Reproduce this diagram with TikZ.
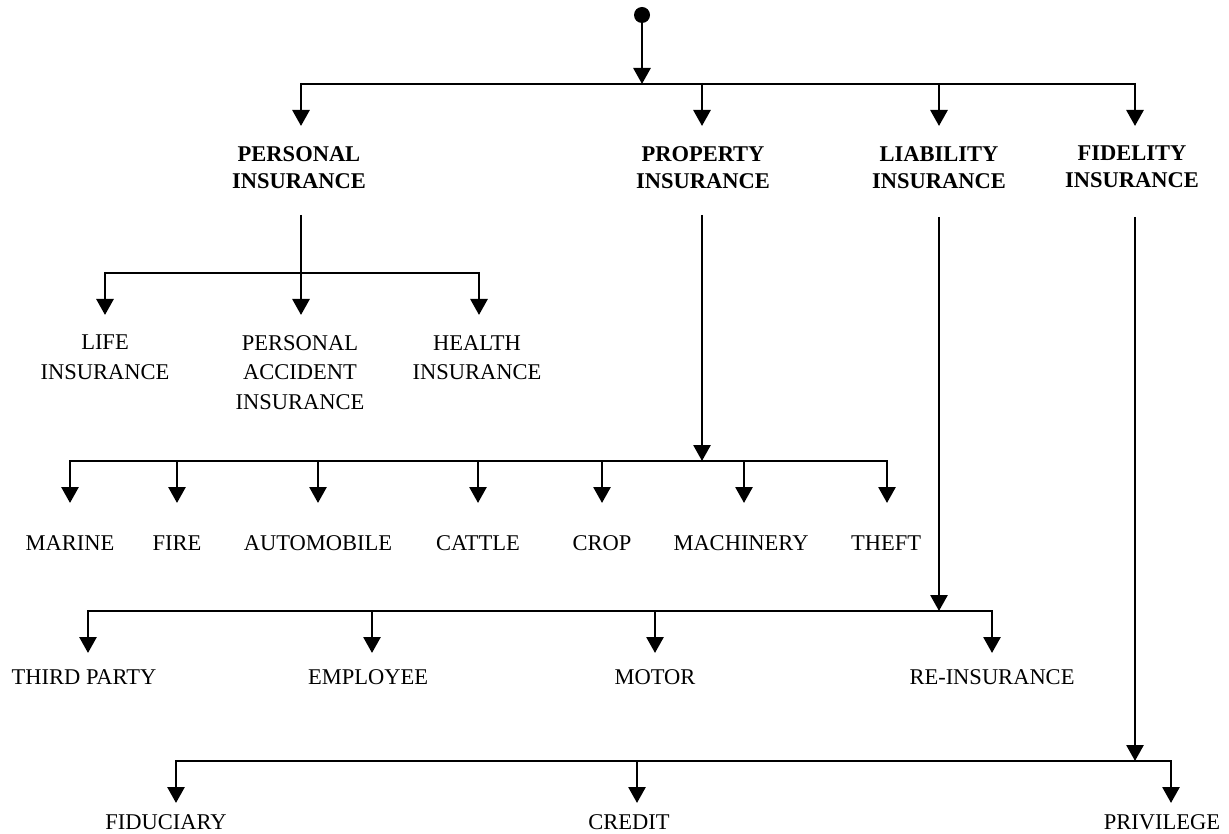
\documentclass[tikz,border=0pt]{standalone}
\usepackage{fontspec}
\setmainfont{Liberation Serif}
\usetikzlibrary{arrows.meta}
\begin{document}
\begin{tikzpicture}[x=1pt,y=-1pt,
  lbl/.style={inner sep=0pt, anchor=base, font=\fontsize{22.5}{29.5}\selectfont},
  mlbl/.style={inner sep=0pt, anchor=north, align=center, font=\fontsize{22.5}{29.5}\selectfont},
  head/.style={inner sep=0pt, anchor=north, align=center, font=\fontsize{22.5}{27}\selectfont\bfseries},
  bus/.style={line width=2.4pt},
  stem/.style={line width=2.8pt},
  arr/.style={line width=2.8pt, -{Triangle[width=17pt,length=16pt]}},
]
\useasboundingbox (0,0) rectangle (1229,834);

% root
\node[circle, fill=black, inner sep=0pt, minimum size=16pt] (root) at (642,15) {};
\coordinate (b0) at (642,84);
\draw[arr] (root.center) -- (b0);
\draw[bus] (301,84) -- (1135,84);

% main categories
\node[head] (pers) at (299,146) {PERSONAL\\INSURANCE};
\node[head] (prop) at (703,146) {PROPERTY\\INSURANCE};
\node[head] (liab) at (939,146) {LIABILITY\\INSURANCE};
\node[head] (fide) at (1132,146) {FIDELITY\\INSURANCE};
\foreach \x in {301,702,939,1135} \draw[arr] (\x,83) -- (\x,126);

% personal
\coordinate (persout) at (301,215);
\coordinate (b1) at (301,273);
\draw[stem] (persout) -- (b1);
\draw[bus] (105,273) -- (479,273);
\node[mlbl] (life) at (105,335) {LIFE\\INSURANCE};
\node[mlbl] (pacc) at (300,335) {PERSONAL\\ACCIDENT\\INSURANCE};
\node[mlbl] (heal) at (477,335) {HEALTH\\INSURANCE};
\foreach \x in {105,301,479} \draw[arr] (\x,272) -- (\x,315);

% property
\coordinate (propout) at (702,215);
\coordinate (b2) at (702,461);
\draw[arr] (propout) -- (b2);
\draw[bus] (70,461) -- (887,461);
\node[lbl] (marine) at (70,550) {MARINE};
\node[lbl] (fire) at (177,550) {FIRE};
\node[lbl] (auto) at (318,550) {AUTOMOBILE};
\node[lbl] (cattle) at (478,550) {CATTLE};
\node[lbl] (crop) at (602,550) {CROP};
\node[lbl] (mach) at (741,550) {MACHINERY};
\node[lbl] (theft) at (886,550) {THEFT};
\foreach \x in {70,177,318,478,602,744,887} \draw[arr] (\x,460) -- (\x,503);

% liability
\coordinate (liabout) at (939,217);
\coordinate (b3) at (939,611);
\draw[arr] (liabout) -- (b3);
\draw[bus] (88,611) -- (992,611);
\node[lbl] (third) at (84,684) {THIRD PARTY};
\node[lbl] (empl) at (368,684) {EMPLOYEE};
\node[lbl] (motor) at (655,684) {MOTOR};
\node[lbl] (rein) at (992,684) {RE-INSURANCE};
\foreach \x in {88,372,655,992} \draw[arr] (\x,610) -- (\x,653);

% fidelity
\coordinate (fideout) at (1135,217);
\coordinate (b4) at (1135,761);
\draw[arr] (fideout) -- (b4);
\draw[bus] (176,761) -- (1171,761);
\node[lbl] (fidu) at (166,829) {FIDUCIARY};
\node[lbl] (cred) at (629,829) {CREDIT};
\node[lbl] (priv) at (1162,829) {PRIVILEGE};
\foreach \x in {176,637,1171} \draw[arr] (\x,760) -- (\x,803);
\end{tikzpicture}
\end{document}
